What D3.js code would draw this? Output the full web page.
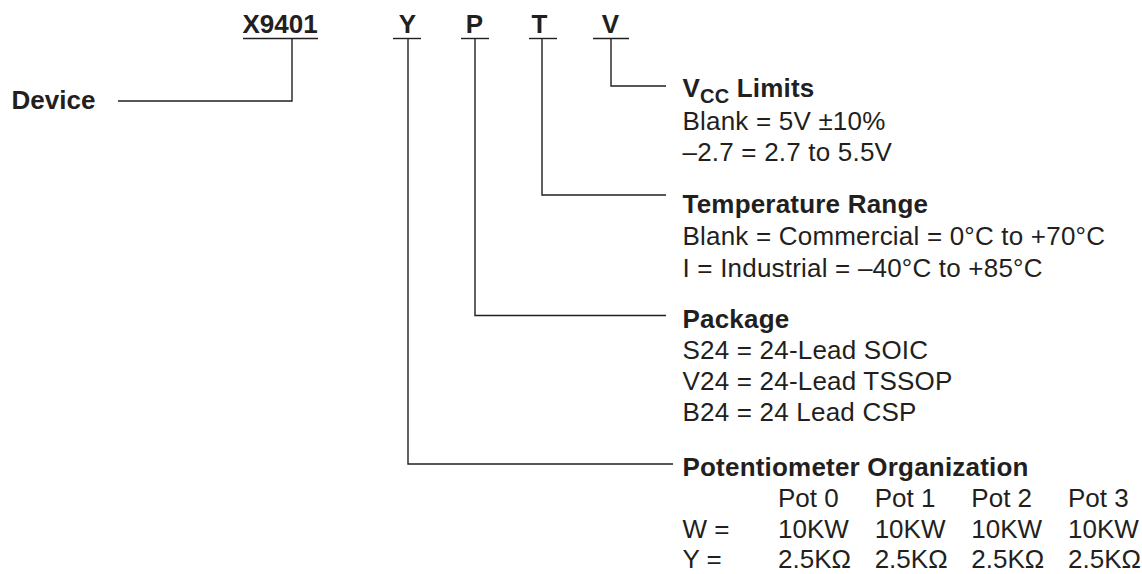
<!DOCTYPE html>
<html>
<head>
<meta charset="utf-8">
<script src="https://cdn.jsdelivr.net/npm/d3@7"></script>
<style>
  html, body { margin: 0; padding: 0; background: #ffffff; }
  svg { display: block; }
  text { font-family: "Liberation Sans", Arial, Helvetica, sans-serif; fill: #231f20; }
</style>
</head>
<body>
<svg id="chart" width="1142" height="574"></svg>
<script>
// ---- data ----
const codes = ["X9401", "Y", "P", "T", "V"];
const deviceLabel = "Device";
const vccTitle = ["V", "CC", " Limits"];
const vccOptions = ["Blank = 5V \u00B110%", "\u20132.7 = 2.7 to 5.5V"];
const tempTitle = "Temperature Range";
const tempOptions = ["Blank = Commercial = 0\u00B0C to +70\u00B0C", "I = Industrial = \u201340\u00B0C to +85\u00B0C"];
const packageTitle = "Package";
const packageOptions = ["S24 = 24-Lead SOIC", "V24 = 24-Lead TSSOP", "B24 = 24 Lead CSP"];
const potTitle = "Potentiometer Organization";
const potColumns = ["Pot 0", "Pot 1", "Pot 2", "Pot 3"];
const potRowLabels = ["W =", "Y ="];
const potValues = [
  ["10KW", "10KW", "10KW", "10KW"],
  ["2.5K\u03A9", "2.5K\u03A9", "2.5K\u03A9", "2.5K\u03A9"]
];

// ---- layout ----
const svg = d3.select("#chart");
const ink = "#231f20";
const lineW = 1.4;
const fs = 26;
const ls = 0.2;

const codeX = d3.scaleOrdinal().domain(codes).range([280, 407.5, 474.5, 539.5, 610.5]);
const leaderX = d3.scaleOrdinal().domain(codes).range([292, 408, 475, 542, 611]);
const underHalf = d3.scaleOrdinal().domain(codes).range([37.5, 14, 14, 14, 18]);
const underCenter = d3.scaleOrdinal().domain(codes).range([280.5, 407, 475, 543, 611]);
const codeBaseline = 33;
const underY = 38.5;
const textX = 682.5;

const g = svg.append("g");

// top codes
g.selectAll("text.code").data(codes).join("text")
  .attr("class", "code")
  .attr("x", d => codeX(d))
  .attr("y", codeBaseline)
  .attr("text-anchor", "middle")
  .attr("font-size", 26)
  .attr("font-weight", "bold")
  .text(d => d);

g.selectAll("line.under").data(codes).join("line")
  .attr("class", "under")
  .attr("x1", d => underCenter(d) - underHalf(d))
  .attr("x2", d => underCenter(d) + underHalf(d))
  .attr("y1", underY).attr("y2", underY)
  .attr("stroke", ink).attr("stroke-width", lineW);

const leaders = [
  { code: "X9401", y: 101, x2: 118 },
  { code: "V", y: 86, x2: 666 },
  { code: "T", y: 195, x2: 666 },
  { code: "P", y: 315.5, x2: 666 },
  { code: "Y", y: 464, x2: 673 }
];
g.selectAll("path.leader").data(leaders).join("path")
  .attr("class", "leader")
  .attr("d", d => {
    const p = d3.path();
    p.moveTo(leaderX(d.code), underY);
    p.lineTo(leaderX(d.code), d.y);
    p.lineTo(d.x2, d.y);
    return p.toString();
  })
  .attr("fill", "none")
  .attr("stroke", ink).attr("stroke-width", lineW);

// Device label
g.append("text")
  .attr("x", 11.5).attr("y", 108.5)
  .attr("font-size", 26).attr("font-weight", "bold")
  .text(deviceLabel);

// VCC section
const vccHead = g.append("text")
  .attr("x", textX).attr("y", 97)
  .attr("font-size", fs).attr("font-weight", "bold").attr("letter-spacing", ls);
vccHead.append("tspan").text(vccTitle[0]);
vccHead.append("tspan").attr("font-size", 20).attr("dy", 6).text(vccTitle[1]);
vccHead.append("tspan").attr("dy", -6).text(vccTitle[2]);

function optionRows(list, firstBaseline, step) {
  g.append("g").selectAll("text").data(list).join("text")
    .attr("x", textX)
    .attr("y", (d, i) => firstBaseline + i * step)
    .attr("font-size", fs).attr("letter-spacing", ls)
    .text(d => d);
}
optionRows(vccOptions, 130, 31);

g.append("text").attr("x", textX).attr("y", 213)
  .attr("font-size", fs).attr("font-weight", "bold").attr("letter-spacing", ls).text(tempTitle);
optionRows(tempOptions, 245, 32);

g.append("text").attr("x", textX).attr("y", 328)
  .attr("font-size", fs).attr("font-weight", "bold").attr("letter-spacing", ls).text(packageTitle);
optionRows(packageOptions, 359, 31);

g.append("text").attr("x", textX).attr("y", 476)
  .attr("font-size", fs).attr("font-weight", "bold").attr("letter-spacing", ls).text(potTitle);

const colX = d3.scalePoint().domain(potColumns).range([778, 1068]);
const potHeadY = 507;
g.append("g").selectAll("text").data(potColumns).join("text")
  .attr("x", d => colX(d)).attr("y", potHeadY)
  .attr("font-size", fs).text(d => d);

potRowLabels.forEach((lab, r) => {
  const y = potHeadY + (r + 1) * 30.5;
  g.append("text").attr("x", textX).attr("y", y).attr("font-size", fs).text(lab);
  g.append("g").selectAll("text").data(potValues[r]).join("text")
    .attr("x", (d, i) => colX(potColumns[i])).attr("y", y)
    .attr("font-size", fs).text(d => d);
});
</script>
</body>
</html>
